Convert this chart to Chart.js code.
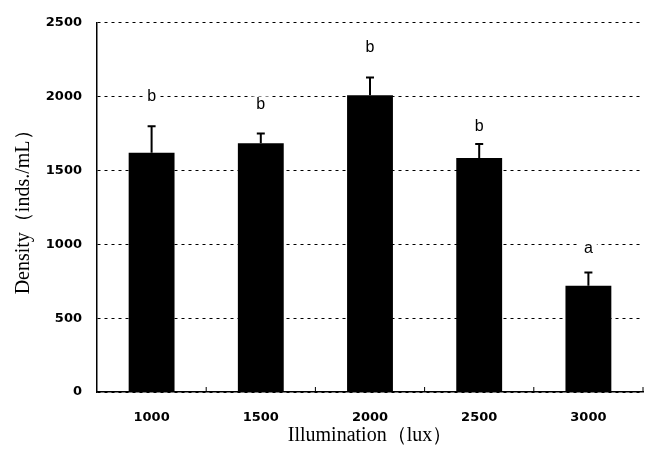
<!DOCTYPE html>
<html>
<head>
<meta charset="utf-8">
<script src="https://cdn.jsdelivr.net/npm/chart.js@4.4.1/dist/chart.umd.min.js"></script>
<style>
  html, body { margin: 0; padding: 0; background: #fff; }
  #wrap { width: 665px; height: 450px; }
</style>
</head>
<body>
<div id="wrap"><canvas id="myChart" width="665" height="450"></canvas></div>
<script>
const categories = ['1000', '1500', '2000', '2500', '3000'];
const densityMean = [1620, 1685, 2010, 1585, 720];
const densityError = [180, 65, 120, 95, 90];
const groupLetters = ['b', 'b', 'b', 'b', 'a'];
const letterLevel = [2000, 1947, 2333, 1800, 973];
const yTicks = [0, 500, 1000, 1500, 2000, 2500];

// error bars + significance letters, drawn through the scales
const errorBarPlugin = {
  id: 'errorBars',
  afterDatasetsDraw(chart) {
    const ctx = chart.ctx;
    const x = chart.scales.x;
    const y = chart.scales.y;
    ctx.save();
    ctx.strokeStyle = '#000';
    ctx.lineWidth = 2;
    densityMean.forEach((v, i) => {
      const px = x.getPixelForValue(i);
      const top = y.getPixelForValue(v + densityError[i]);
      const base = y.getPixelForValue(v);
      ctx.beginPath();
      ctx.moveTo(px, base);
      ctx.lineTo(px, top);
      ctx.moveTo(px - 4, top);
      ctx.lineTo(px + 4, top);
      ctx.stroke();
    });
    ctx.font = '16px "Liberation Sans", Arial, sans-serif';
    ctx.textAlign = 'center';
    ctx.textBaseline = 'middle';
    groupLetters.forEach((t, i) => {
      const px = x.getPixelForValue(i);
      const py = y.getPixelForValue(letterLevel[i]);
      // white box so the dashed grid doesn't run through the letter
      const w = ctx.measureText(t).width + 8;
      ctx.fillStyle = '#fff';
      ctx.fillRect(px - w / 2, py - 8, w, 16);
      ctx.fillStyle = '#000';
      ctx.fillText(t, px, py);
    });
    // small inward ticks on x axis between groups
    ctx.lineWidth = 1;
    ctx.beginPath();
    for (let i = 0; i < categories.length; i++) {
      const bx = i < categories.length - 1
        ? (x.getPixelForValue(i) + x.getPixelForValue(i + 1)) / 2
        : x.right;
      ctx.moveTo(bx, y.bottom);
      ctx.lineTo(bx, y.bottom - 5);
    }
    ctx.stroke();
    ctx.restore();
  }
};

const ctx = document.getElementById('myChart');

const myChart = new Chart(ctx, {
  type: 'bar',
  data: {
    labels: categories,
    datasets: [{
      label: 'Density',
      data: densityMean,
      backgroundColor: '#000',
      borderWidth: 0,
      categoryPercentage: 1,
      barPercentage: 0.42
    }]
  },
  options: {
    responsive: false,
    animation: false,
    devicePixelRatio: 1,
    layout: { padding: { top: 17, right: 22, left: 0, bottom: 0 } },
    plugins: {
      legend: { display: false },
      tooltip: { enabled: false }
    },
    scales: {
      x: {
        grid: { display: false },
        border: { display: true, color: '#000', width: 1.5 },
        ticks: {
          color: '#000',
          padding: 10,
          maxRotation: 0,
          font: { family: '"DejaVu Sans", sans-serif', size: 13, weight: 'bold' }
        },
        title: {
          display: true,
          text: 'Illumination（lux）',
          color: '#000',
          padding: { top: 0, bottom: 2 },
          font: { family: '"Liberation Serif", "Times New Roman", serif', size: 20, weight: 'normal' }
        },
        afterFit(scale) { scale.height = 58; }
      },
      y: {
        min: 0,
        max: 2500,
        afterBuildTicks(scale) { scale.ticks = yTicks.map(v => ({ value: v })); },
        grid: {
          color: '#000',
          lineWidth: 1,
          drawTicks: false
        },
        border: { display: true, color: '#000', width: 1.5, dash: [3, 4] },
        ticks: {
          color: '#000',
          padding: 15,
          callback: v => String(v),
          font: { family: '"DejaVu Sans", sans-serif', size: 13, weight: 'bold' }
        },
        title: {
          display: true,
          text: 'Density（inds./mL）',
          color: '#000',
          padding: { top: 12, bottom: 0 },
          font: { family: '"Liberation Serif", "Times New Roman", serif', size: 20, weight: 'normal' }
        },
        afterFit(scale) { scale.width = 97; }
      }
    }
  },
  plugins: [errorBarPlugin]
});
</script>
</body>
</html>
